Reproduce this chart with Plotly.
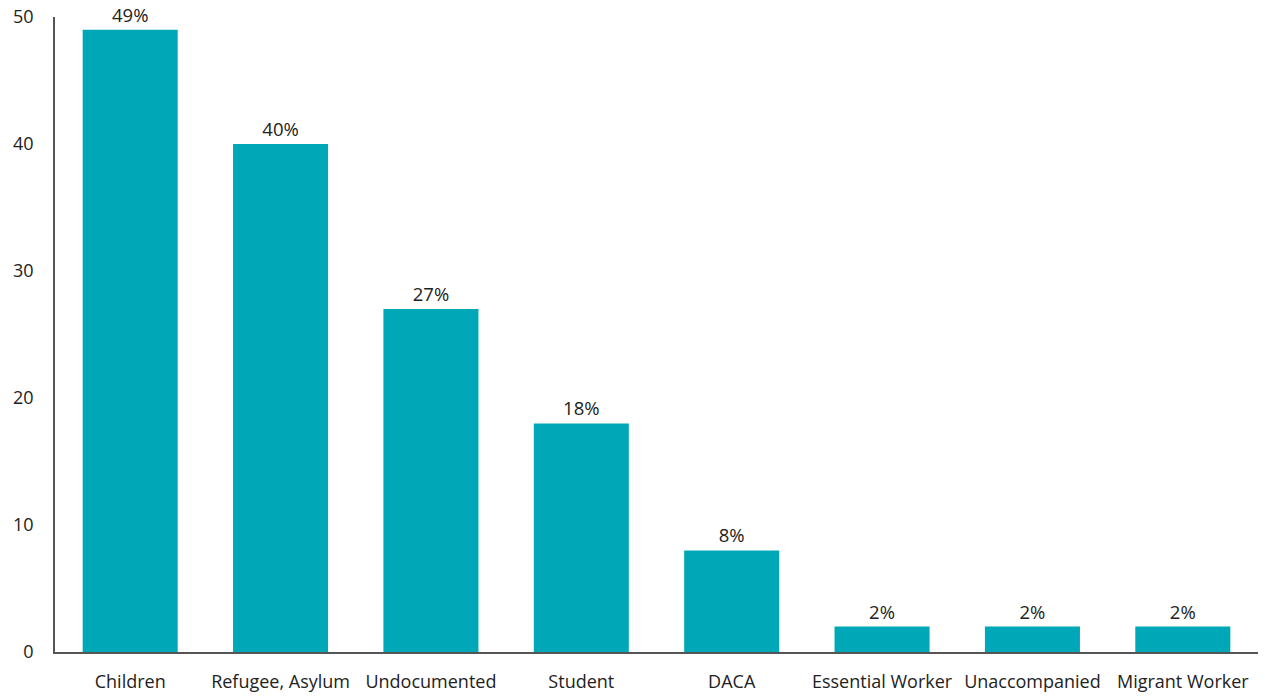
import plotly.graph_objects as go

categories = ["Children", "Refugee, Asylum", "Undocumented", "Student", "DACA",
              "Essential Worker", "Unaccompanied", "Migrant Worker"]
values = [49, 40, 27, 18, 8, 2, 2, 2]
labels = [f"{v}%" for v in values]

FONT = "'Open Sans', Lato, sans-serif"

fig = go.Figure(
    go.Bar(
        x=categories,
        y=values,
        text=labels,
        textposition="outside",
        textfont=dict(size=18.5, color="#222222", family=FONT),
        marker=dict(color="#00A8B7", line=dict(width=0)),
        cliponaxis=False,
    )
)

fig.update_layout(
    width=1265,
    height=696,
    margin=dict(l=55, r=7, t=17, b=44),
    paper_bgcolor="white",
    plot_bgcolor="white",
    bargap=0.368,
    showlegend=False,
    font=dict(family=FONT, size=18, color="#222222"),
)

fig.update_xaxes(
    automargin=False,
    showline=True,
    linecolor="#555555",
    linewidth=1.5,
    showgrid=False,
    ticks="",
    ticklabelstandoff=13,
    tickfont=dict(size=18),
)
fig.update_yaxes(
    automargin=False,
    range=[0, 50],
    tickvals=[0, 10, 20, 30, 40, 50],
    showline=True,
    linecolor="#555555",
    linewidth=1.5,
    showgrid=False,
    zeroline=False,
    ticks="",
    ticklabelstandoff=16,
    tickfont=dict(size=18),
)

fig.write_html("out.html")
